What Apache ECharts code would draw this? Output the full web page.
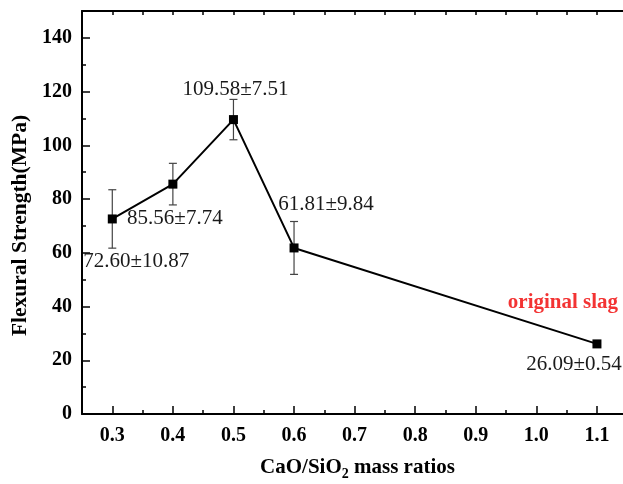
<!DOCTYPE html>
<html>
<head>
<meta charset="utf-8">
<script src="https://cdn.jsdelivr.net/npm/echarts@6/dist/echarts.min.js"></script>
<style>
  html, body { margin: 0; padding: 0; background: #fff; }
  #main { width: 623px; height: 484px; }
</style>
</head>
<body>
<div id="main"></div>
<script>
const ratios = [0.3, 0.4, 0.5, 0.6, 1.1];
const strength = [72.60, 85.56, 109.58, 61.81, 26.09];
const errors = [10.87, 7.74, 7.51, 9.84, 0.54];
const xTicks = [0.3, 0.4, 0.5, 0.6, 0.7, 0.8, 0.9, 1.0, 1.1];
const xMinorTicks = [0.35, 0.45, 0.55, 0.65, 0.75, 0.85, 0.95, 1.05];
const yTicks = [0, 20, 40, 60, 80, 100, 120, 140];
const yMinorTicks = [10, 30, 50, 70, 90, 110, 130];
const note = 'original slag';

const font = 'Liberation Serif';
// label offsets from each point (px)
const labelOffsets = [[24, 43], [2, 34], [2, -30], [32, -43], [-23, 21]];

const chartDom = document.getElementById('main');
const myChart = echarts.init(chartDom);

const points = ratios.map((x, i) => [x, strength[i], errors[i]]);
const topTicks = xTicks.concat(xMinorTicks).sort((a, b) => a - b);

// plot is cut at the right edge of the picture
const xMin = 0.25, xMax = 1.143;

const bareAxis = {
  axisLine: { show: false },
  axisLabel: { show: false },
  splitLine: { show: false }
};

const option = {
  animation: false,
  grid: { left: 82, top: 11, right: 0, height: 403, outerBoundsMode: 'none', containLabel: false },
  xAxis: [
    {
      type: 'value', min: xMin, max: xMax, position: 'bottom',
      axisLine: { lineStyle: { color: '#000', width: 2 } },
      axisTick: { inside: true, length: 8, customValues: xTicks, lineStyle: { color: '#000', width: 1.5 } },
      axisLabel: {
        customValues: xTicks, margin: 12,
        formatter: v => v.toFixed(1),
        fontFamily: font, fontWeight: 'bold', fontSize: 20, color: '#000'
      },
      splitLine: { show: false },
      name: '{a|CaO/SiO}{s|2}{a| mass ratios}',
      nameLocation: 'middle', nameGap: 41,
      nameTextStyle: {
        padding: [0, 0, 0, 10],
        rich: {
          a: { fontFamily: font, fontWeight: 'bold', fontSize: 21, color: '#000' },
          s: { fontFamily: font, fontWeight: 'bold', fontSize: 14, color: '#000', padding: [12, 0, 0, 0] }
        }
      }
    },
    Object.assign({
      type: 'value', min: xMin, max: xMax, position: 'bottom',
      axisTick: { inside: true, length: 4, customValues: xMinorTicks, lineStyle: { color: '#000', width: 1.5 } }
    }, bareAxis),
    {
      type: 'value', min: xMin, max: xMax, position: 'top',
      axisLine: { lineStyle: { color: '#000', width: 2 } },
      axisTick: { inside: true, length: 4, customValues: topTicks, lineStyle: { color: '#000', width: 1.5 } },
      axisLabel: { show: false },
      splitLine: { show: false }
    }
  ],
  yAxis: [
    {
      type: 'value', min: 0, max: 150, position: 'left',
      axisLine: { lineStyle: { color: '#000', width: 2 } },
      axisTick: { inside: true, length: 8, customValues: yTicks, lineStyle: { color: '#000', width: 1.5 } },
      axisLabel: {
        customValues: yTicks, margin: 10,
        fontFamily: font, fontWeight: 'bold', fontSize: 20, color: '#000'
      },
      splitLine: { show: false },
      name: 'Flexural Strength(MPa)',
      nameLocation: 'middle', nameGap: 50,
      nameTextStyle: { fontFamily: font, fontWeight: 'bold', fontSize: 21.5, color: '#000', padding: [0, 0, 0, -26] }
    },
    Object.assign({
      type: 'value', min: 0, max: 150, position: 'left',
      axisTick: { inside: true, length: 4, customValues: yMinorTicks, lineStyle: { color: '#000', width: 1.5 } }
    }, bareAxis)
  ],
  series: [
    {
      type: 'custom',
      xAxisIndex: 0, yAxisIndex: 0,
      data: points,
      z: 1,
      renderItem: (params, api) => {
        const x = api.value(0), y = api.value(1), e = api.value(2);
        const lo = api.coord([x, y - e]);
        const hi = api.coord([x, y + e]);
        const cap = 4;
        const style = { stroke: '#444', lineWidth: 1.2 };
        return {
          type: 'group',
          children: [
            { type: 'line', shape: { x1: lo[0], y1: lo[1], x2: hi[0], y2: hi[1] }, style },
            { type: 'line', shape: { x1: lo[0] - cap, y1: lo[1], x2: lo[0] + cap, y2: lo[1] }, style },
            { type: 'line', shape: { x1: hi[0] - cap, y1: hi[1], x2: hi[0] + cap, y2: hi[1] }, style }
          ]
        };
      }
    },
    {
      type: 'line',
      xAxisIndex: 0, yAxisIndex: 0,
      z: 3,
      symbol: 'rect', symbolSize: 9,
      itemStyle: { color: '#000' },
      lineStyle: { color: '#000', width: 2 },
      data: points.map((p, i) => ({
        value: [p[0], p[1]],
        label: {
          show: true, position: 'inside', offset: labelOffsets[i],
          formatter: p[1].toFixed(2) + '±' + p[2].toFixed(2),
          fontFamily: font, fontSize: 21, color: '#1a1a1a'
        }
      }))
    },
    {
      type: 'scatter',
      xAxisIndex: 0, yAxisIndex: 0,
      z: 4,
      symbolSize: 1,
      itemStyle: { color: 'rgba(0,0,0,0)' },
      data: [[ratios[4], strength[4]]],
      label: {
        show: true, position: 'inside', offset: [-34, -41],
        formatter: note,
        fontFamily: font, fontWeight: 'bold', fontSize: 21, color: '#f00000'
      }
    }
  ]
};

option && myChart.setOption(option);
</script>
</body>
</html>
